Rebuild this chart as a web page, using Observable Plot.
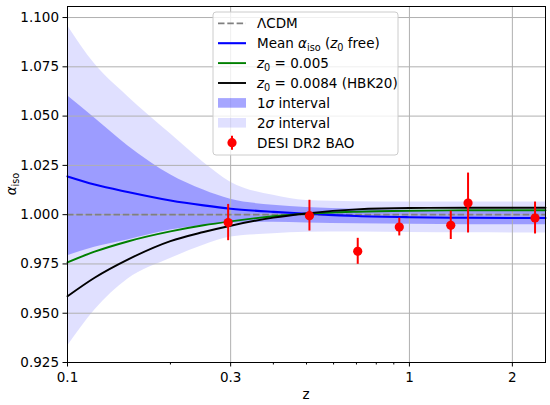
<!DOCTYPE html>
<html>
<head>
<meta charset="utf-8">
<script src="https://cdn.jsdelivr.net/npm/d3@7"></script>
<script src="https://cdn.jsdelivr.net/npm/@observablehq/plot@0.6"></script>
<style>
  html, body { margin: 0; padding: 0; background: white; }
  #chart svg { display: block; }
  #chart svg text { font-family: "DejaVu Sans", sans-serif; font-size: 13.5px; }
</style>
</head>
<body>
<div id="chart"></div>
<script>
// ---- data ----
const zGrid    = [0.1, 0.12, 0.15, 0.2, 0.25, 0.3, 0.4, 0.5, 0.7, 1.0, 1.5, 2.5];
const meanFree = [1.0194, 1.0153, 1.0115, 1.0072, 1.0047, 1.0030, 1.0014, 1.0005, 0.9993, 0.9987, 0.9984, 0.9983];
const z0_005   = [0.9758, 0.9812, 0.9864, 0.9915, 0.9946, 0.9966, 0.9992, 1.0005, 1.0015, 1.0020, 1.0022, 1.0022];
const z0_0084  = [0.9586, 0.9680, 0.9772, 0.9866, 0.9912, 0.9944, 0.9985, 1.0006, 1.0027, 1.0034, 1.0035, 1.0035];
const sig1Lo   = [0.9792, 0.9835, 0.9872, 0.9922, 0.9945, 0.9957, 0.9961, 0.9958, 0.9954, 0.9951, 0.9949, 0.9949];
const sig1Hi   = [1.0603, 1.0490, 1.0350, 1.0203, 1.0125, 1.0078, 1.0048, 1.0036, 1.0027, 1.0021, 1.0020, 1.0020];
const sig2Lo   = [0.9332, 0.9515, 0.9672, 0.9777, 0.9845, 0.9887, 0.9903, 0.9911, 0.9912, 0.9910, 0.9908, 0.9907];
const sig2Hi   = [1.0960, 1.0765, 1.0600, 1.0410, 1.0265, 1.0165, 1.0098, 1.0072, 1.0066, 1.0064, 1.0064, 1.0064];

const baoZ     = [0.295, 0.51, 0.706, 0.934, 1.321, 1.484, 2.33];
const baoAlpha = [0.9960, 0.9995, 0.9814, 0.9937, 0.9946, 1.0059, 0.9983];
const baoErr   = [0.0092, 0.0078, 0.0066, 0.0045, 0.0072, 0.0152, 0.0081];

const xMajorTicks = [0.1, 0.3, 1, 2];
const xMinorTicks = [0.2, 0.4, 0.5, 0.6, 0.7, 0.8, 0.9];
const yTicks = [0.925, 0.95, 0.975, 1.0, 1.025, 1.05, 1.075, 1.1];
const lcdm = [1.0];

// ---- tables ----
const curves = zGrid.map((z, i) => ({
  z, mean: meanFree[i], g: z0_005[i], k: z0_0084[i],
  s1lo: sig1Lo[i], s1hi: sig1Hi[i], s2lo: sig2Lo[i], s2hi: sig2Hi[i]
}));
const bao = baoZ.map((z, i) => ({z, a: baoAlpha[i], lo: baoAlpha[i] - baoErr[i], hi: baoAlpha[i] + baoErr[i]}));

const gridColor = "#b0b0b0";
const chart = Plot.plot({
  width: 550, height: 405,
  marginLeft: 67, marginRight: 5, marginTop: 6, marginBottom: 43,
  style: {fontFamily: "DejaVu Sans", fontSize: "13.5px", color: "black", background: "white", overflow: "visible"},
  x: {type: "log", domain: [0.1, 2.5]},
  y: {domain: [0.925, 1.1056]},
  marks: [
    Plot.areaY(curves, {x: "z", y1: "s2lo", y2: "s2hi", fill: "blue", fillOpacity: 0.12, curve: "monotone-x"}),
    Plot.areaY(curves, {x: "z", y1: "s1lo", y2: "s1hi", fill: "blue", fillOpacity: 0.3, curve: "monotone-x"}),
    Plot.ruleX(xMajorTicks, {stroke: gridColor, strokeWidth: 1}),
    Plot.ruleY(yTicks, {stroke: gridColor, strokeWidth: 1}),
    Plot.ruleY(lcdm, {stroke: "gray", strokeWidth: 1.8, strokeDasharray: "6.5,2.8"}),
    Plot.line(curves, {x: "z", y: "mean", stroke: "blue", strokeWidth: 2.1, curve: "monotone-x"}),
    Plot.line(curves, {x: "z", y: "g", stroke: "green", strokeWidth: 1.9, curve: "monotone-x"}),
    Plot.line(curves, {x: "z", y: "k", stroke: "black", strokeWidth: 1.9, curve: "monotone-x"}),
    Plot.ruleX(bao, {x: "z", y1: "lo", y2: "hi", stroke: "red", strokeWidth: 2}),
    Plot.dot(bao, {x: "z", y: "a", r: 4.6, fill: "red", stroke: null}),
    Plot.frame({stroke: "black", strokeWidth: 1}),
    Plot.axisX({ticks: xMajorTicks, tickFormat: d => String(d), tickSize: 4.5, tickPadding: 5, label: null}),
    Plot.axisX({ticks: xMinorTicks, tickFormat: () => "", tickSize: 2.5, label: null}),
    Plot.axisY({ticks: yTicks, tickFormat: d3.format(".3f"), tickSize: 4.5, tickPadding: 4, label: null})
  ]
});
document.getElementById("chart").appendChild(chart);

// ---- axis titles & legend (text and swatches) ----
const svg = d3.select(chart);
const FS = 13.5;
function richText(sel, parts) {
  // parts: [text, kind] kind: "n" normal, "i" italic, "s" subscript (roman)
  let shifted = false;
  parts.forEach(([t, kind]) => {
    const ts = sel.append("tspan").text(t);
    const sub = kind === "s";
    if (kind === "i") ts.attr("font-style", "italic");
    if (sub) ts.style("font-size", (FS * 0.72) + "px");
    if (sub && !shifted) { ts.attr("dy", 3.2); shifted = true; }
    else if (!sub && shifted) { ts.attr("dy", -3.2); shifted = false; }
  });
}

svg.append("text")
  .attr("x", 306).attr("y", 399).attr("text-anchor", "middle").text("z");

const yl = svg.append("text")
  .attr("transform", "translate(15.5,184) rotate(-90)")
  .attr("text-anchor", "middle");
richText(yl, [["α", "i"], ["iso", "s"]]);

const lg = svg.append("g").attr("text-anchor", "start");
lg.append("rect").attr("x", 213).attr("y", 12).attr("width", 185).attr("height", 143)
  .attr("rx", 3).attr("fill", "white").attr("fill-opacity", 0.8)
  .attr("stroke", "#cccccc").attr("stroke-width", 1);

const rows = [
  {type: "line", stroke: "gray", dash: "6.5,2.8", w: 1.8, parts: [["ΛCDM", "n"]]},
  {type: "line", stroke: "blue", w: 2.1, parts: [["Mean ", "n"], ["α", "i"], ["iso", "s"], [" (", "n"], ["z", "i"], ["0", "s"], [" free)", "n"]]},
  {type: "line", stroke: "green", w: 1.9, parts: [["z", "i"], ["0", "s"], [" = 0.005", "n"]]},
  {type: "line", stroke: "black", w: 1.9, parts: [["z", "i"], ["0", "s"], [" = 0.0084 (HBK20)", "n"]]},
  {type: "patch", op: 0.35, parts: [["1", "n"], ["σ", "i"], [" interval", "n"]]},
  {type: "patch", op: 0.12, parts: [["2", "n"], ["σ", "i"], [" interval", "n"]]},
  {type: "point", parts: [["DESI DR2 BAO", "n"]]}
];
const rowY0 = 23.3, rowDy = 19.9, hx0 = 218, hx1 = 246, tx = 257;
rows.forEach((r, i) => {
  const y = rowY0 + i * rowDy;
  if (r.type === "line") {
    lg.append("line").attr("x1", hx0).attr("x2", hx1).attr("y1", y).attr("y2", y)
      .attr("stroke", r.stroke).attr("stroke-width", r.w).attr("stroke-dasharray", r.dash || null);
  } else if (r.type === "patch") {
    lg.append("rect").attr("x", hx0).attr("y", y - 4.8).attr("width", hx1 - hx0).attr("height", 9.6)
      .attr("fill", "blue").attr("fill-opacity", r.op);
  } else {
    const cx = (hx0 + hx1) / 2;
    lg.append("line").attr("x1", cx).attr("x2", cx).attr("y1", y - 7).attr("y2", y + 7)
      .attr("stroke", "red").attr("stroke-width", 2);
    lg.append("circle").attr("cx", cx).attr("cy", y).attr("r", 4.6).attr("fill", "red");
  }
  const t = lg.append("text").attr("x", tx).attr("y", y + 4.9).attr("text-anchor", "start");
  richText(t, r.parts);
});
</script>
</body>
</html>
